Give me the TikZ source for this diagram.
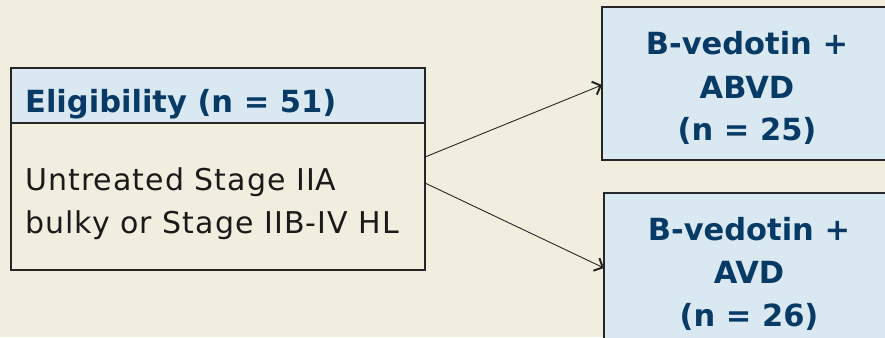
\documentclass[tikz,border=0pt]{standalone}
\usepackage{fontspec}
\usetikzlibrary{arrows.meta}
\setmainfont{DejaVu Sans}
\definecolor{bg}{HTML}{F2EEDF}
\definecolor{hdr}{HTML}{DAE8F2}
\definecolor{navy}{HTML}{073B66}
\definecolor{txt}{HTML}{1A1A1A}
\begin{document}
\begin{tikzpicture}[x=1pt,y=-1pt,
  boxline/.style={draw=black!85,line width=1.8pt},
  hdrtext/.style={font=\fontsize{30.5}{36}\selectfont\bfseries,text=navy,anchor=base west,inner sep=0pt},
  bodytext/.style={font=\fontsize{30}{36}\selectfont\addfontfeature{LetterSpace=3.5},text=txt,anchor=base west,inner sep=0pt},
  armtext/.style={font=\fontsize{30.5}{36}\selectfont\bfseries,text=navy,anchor=base,inner sep=0pt},
  conn/.style={draw=black!85,line width=0.9pt,-{Straight Barb[length=7pt,width=14pt,line width=2pt]}}]
\useasboundingbox (0,0) rectangle (885,337);
\clip (0,0) rectangle (885,337);
\fill[bg] (0,0) rectangle (885,337);
% left box
\fill[hdr] (11,68) rectangle (425,123);
\draw[boxline] (11,68) rectangle (425,270);
\draw[boxline] (11,123) -- (425,123);
\node[hdrtext] (elig) at (25,112) {Eligibility (n = 51)};
\node[bodytext] (body1) at (25,190) {Untreated Stage IIA};
\node[bodytext] (body2) at (25,233) {bulky or Stage IIB-IV HL};
\coordinate (o1) at (425,157);
\coordinate (o2) at (425,183);
% right boxes
\filldraw[hdr,boxline] (602,7) rectangle (895,160);
\node[armtext] (a1l1) at (747,55) {B-vedotin +};
\node[armtext] (a1l2) at (747,98) {ABVD};
\node[armtext] (a1l3) at (747,140) {(n = 25)};
\filldraw[hdr,boxline] (604,193) rectangle (895,350);
\node[armtext] (a2l1) at (749,240) {B-vedotin +};
\node[armtext] (a2l2) at (749,283) {AVD};
\node[armtext] (a2l3) at (749,326) {(n = 26)};
\coordinate (i1) at (602,85);
\coordinate (i2) at (604,268);
\draw[conn] (o1) -- (i1);
\draw[conn] (o2) -- (i2);
\end{tikzpicture}
\end{document}
